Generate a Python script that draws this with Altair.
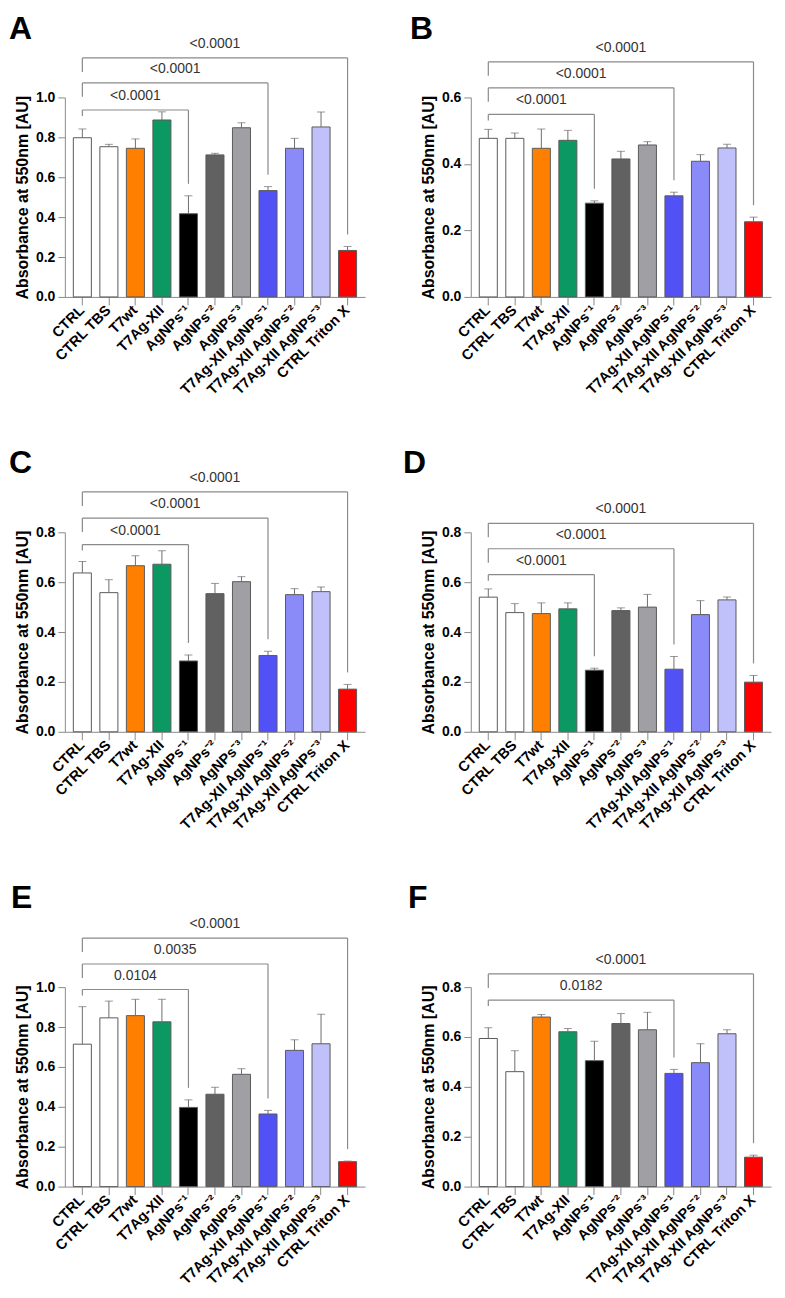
import altair as alt
import pandas as pd

categories = ["CTRL", "CTRL TBS", "T7wt", "T7Ag-XII", "AgNPs⁻¹", "AgNPs⁻²", "AgNPs⁻³",
              "T7Ag-XII AgNPs⁻¹", "T7Ag-XII AgNPs⁻²", "T7Ag-XII AgNPs⁻³", "CTRL Triton X"]
bar_colors = ["#ffffff", "#ffffff", "#ff7f00", "#0b9863", "#000000", "#616161", "#808080",
              "#5151f5", "#8a8af8", "#c0c0fb", "#ff0000"]

means_A = [0.798, 0.753, 0.745, 0.887, 0.417, 0.712, 0.848, 0.533, 0.745, 0.852, 0.233]
sd_A = [0.044, 0.012, 0.047, 0.041, 0.090, 0.008, 0.025, 0.020, 0.050, 0.075, 0.020]
means_B = [0.477, 0.477, 0.447, 0.471, 0.282, 0.415, 0.457, 0.304, 0.408, 0.448, 0.226]
sd_B = [0.027, 0.016, 0.058, 0.030, 0.007, 0.023, 0.010, 0.011, 0.020, 0.011, 0.014]
means_C = [0.637, 0.558, 0.666, 0.672, 0.284, 0.554, 0.602, 0.306, 0.550, 0.562, 0.171]
sd_C = [0.046, 0.052, 0.040, 0.054, 0.024, 0.041, 0.020, 0.017, 0.024, 0.019, 0.019]
means_D = [0.540, 0.478, 0.474, 0.493, 0.247, 0.486, 0.500, 0.251, 0.470, 0.529, 0.199]
sd_D = [0.033, 0.036, 0.043, 0.024, 0.008, 0.011, 0.051, 0.051, 0.056, 0.012, 0.027]
means_E = [0.714, 0.846, 0.857, 0.826, 0.397, 0.463, 0.563, 0.364, 0.683, 0.716, 0.125]
sd_E = [0.188, 0.084, 0.082, 0.113, 0.038, 0.035, 0.028, 0.018, 0.053, 0.148, 0.003]
means_F = [0.594, 0.461, 0.680, 0.621, 0.505, 0.654, 0.629, 0.454, 0.497, 0.613, 0.118]
sd_F = [0.043, 0.084, 0.010, 0.013, 0.078, 0.040, 0.070, 0.016, 0.076, 0.016, 0.008]

axis_max = {"A": 1.0, "B": 0.6, "C": 0.8, "D": 0.8, "E": 1.0, "F": 0.8}

# comparisons against CTRL: target group, p-value text, bracket level (data units)
targets_3 = ["AgNPs⁻¹", "T7Ag-XII AgNPs⁻¹", "CTRL Triton X"]
targets_2 = ["T7Ag-XII AgNPs⁻¹", "CTRL Triton X"]
pvals_A = ["<0.0001", "<0.0001", "<0.0001"]
pvals_B = ["<0.0001", "<0.0001", "<0.0001"]
pvals_C = ["<0.0001", "<0.0001", "<0.0001"]
pvals_D = ["<0.0001", "<0.0001", "<0.0001"]
pvals_E = ["0.0104", "0.0035", "<0.0001"]
pvals_F = ["0.0182", "<0.0001"]
levels_A = [0.937, 1.073, 1.198]
levels_B = [0.549, 0.629, 0.707]
levels_C = [0.751, 0.857, 0.962]
levels_D = [0.630, 0.734, 0.836]
levels_E = [0.988, 1.116, 1.246]
levels_F = [0.748, 0.853]

FONT = "Liberation Sans"
GRAY = "#8a8a8a"
PAD_INNER = 0.32
PAD_OUTER = 0.32
PLOT_W = 301
PLOT_H = 200
STEP = PLOT_W / (len(categories) - PAD_INNER + 2 * PAD_OUTER)


def panel(letter, means, sds, targets, pvals, levels, extra_top=0, colors=None, letter_x=-56):
    ymax = axis_max[letter]
    colors = colors or bar_colors
    h = PLOT_H + extra_top
    df = pd.DataFrame({"group": categories, "mean": means,
                       "hi": [m + s for m, s in zip(means, sds)]})
    hi = dict(zip(categories, df["hi"]))
    unit = ymax / PLOT_H  # data units per pixel

    xscale = alt.Scale(domain=categories, paddingInner=PAD_INNER, paddingOuter=PAD_OUTER)
    xaxis = alt.Axis(labelAngle=-45, labelAlign="right", labelBaseline="middle",
                     labelFontSize=14.5, labelFontWeight="bold", labelColor="black",
                     labelFont=FONT, labelPadding=3, labelOverlap=False, labelLimit=300,
                     tickColor=GRAY, domainColor=GRAY, tickSize=8, grid=False)
    yscale = alt.Scale(domain=[0, ymax], range=[h, extra_top], nice=False, zero=True)
    nt = int(round(ymax / 0.2))
    yaxis = alt.Axis(values=[round(0.2 * i, 1) for i in range(nt + 1)], format=".1f",
                     labelFontSize=14, labelFontWeight="bold", labelColor="black",
                     labelFont=FONT, labelPadding=3, tickSize=7, tickColor=GRAY,
                     domainColor=GRAY, grid=False, titleFontSize=16, titleFontWeight="bold",
                     titleFont=FONT, titleColor="black", titlePadding=5)
    ytitle = "Absorbance at 550nm [AU]"

    def X(f):
        return alt.X(f, scale=xscale, axis=xaxis, title=None)

    def Y(f):
        return alt.Y(f, scale=yscale, axis=yaxis, title=ytitle)

    bars = alt.Chart(df).mark_bar(stroke="#5a5a5a", strokeWidth=1).encode(
        x=X("group:N"), y=Y("mean:Q"),
        color=alt.Color("group:N", scale=alt.Scale(domain=categories, range=colors), legend=None))
    err = alt.Chart(df).mark_rule(color="#6e6e6e", strokeWidth=1).encode(
        x=X("group:N"), y=Y("mean:Q"), y2="hi:Q")
    cap = alt.Chart(df).mark_tick(color="#6e6e6e", size=8, thickness=1).encode(
        x=X("group:N"), y=Y("hi:Q"))

    hrows, vrows, trows_int, trows_half = [], [], [], []
    for i, (t, p, lv) in enumerate(zip(targets, pvals, levels)):
        hrows.append({"a": "CTRL", "b": t, "lv": lv})
        left_len = 6 if i == 0 else 14
        vrows.append({"g": "CTRL", "y1": lv, "y2": lv - left_len * unit})
        vrows.append({"g": t, "y1": lv, "y2": hi[t] + 12 * unit})
        mid = categories.index(t) / 2
        row = {"g": categories[int(mid)], "lv": lv, "p": p}
        (trows_int if mid == int(mid) else trows_half).append(row)

    hl = alt.Chart(pd.DataFrame(hrows)).mark_rule(color=GRAY, strokeWidth=1.2).encode(
        x=X("a:N"), x2="b:N", y=Y("lv:Q"))
    vl = alt.Chart(pd.DataFrame(vrows)).mark_rule(color=GRAY, strokeWidth=1.2).encode(
        x=X("g:N"), y=Y("y1:Q"), y2="y2:Q")
    layers = [bars, err, cap, hl, vl]
    txt_style = dict(fontSize=14, color="#333333", baseline="middle", dy=-14, font=FONT)
    if trows_int:
        layers.append(alt.Chart(pd.DataFrame(trows_int)).mark_text(**txt_style).encode(
            x=X("g:N"), y=Y("lv:Q"), text="p:N"))
    if trows_half:
        layers.append(alt.Chart(pd.DataFrame(trows_half)).mark_text(dx=STEP / 2, **txt_style).encode(
            x=X("g:N"), y=Y("lv:Q"), text="p:N"))
    lab = alt.Chart(pd.DataFrame({"L": [letter]})).mark_text(
        fontSize=32, fontWeight="bold", font=FONT, align="left", baseline="top",
        color="black").encode(text="L:N", x=alt.value(letter_x), y=alt.value(-84))
    layers.append(lab)
    return alt.layer(*layers).properties(width=PLOT_W, height=h)


colors_A = list(bar_colors)
colors_A[6] = "#a0a0a4"

pA = panel("A", means_A, sd_A, targets_3, pvals_A, levels_A, colors=colors_A)
pB = panel("B", means_B, sd_B, targets_3, pvals_B, levels_B, letter_x=-61)
pC = panel("C", means_C, sd_C, targets_3, pvals_C, levels_C)
pD = panel("D", means_D, sd_D, targets_3, pvals_D, levels_D, letter_x=-68)
pE = panel("E", means_E, sd_E, targets_3, pvals_E, levels_E, extra_top=20, letter_x=-54)
pF = panel("F", means_F, sd_F, targets_2, pvals_F, levels_F, extra_top=20, letter_x=-63)

chart = alt.concat(pA, pB, pC, pD, pE, pF, columns=2,
                   spacing={"row": 236, "column": 106}, bounds="flush").properties(
    padding={"left": 0, "top": 2, "right": 5, "bottom": 5}
).configure(font=FONT).configure_view(stroke="transparent")

chart.save("out.html", embed_options={"renderer": "svg", "actions": False})
